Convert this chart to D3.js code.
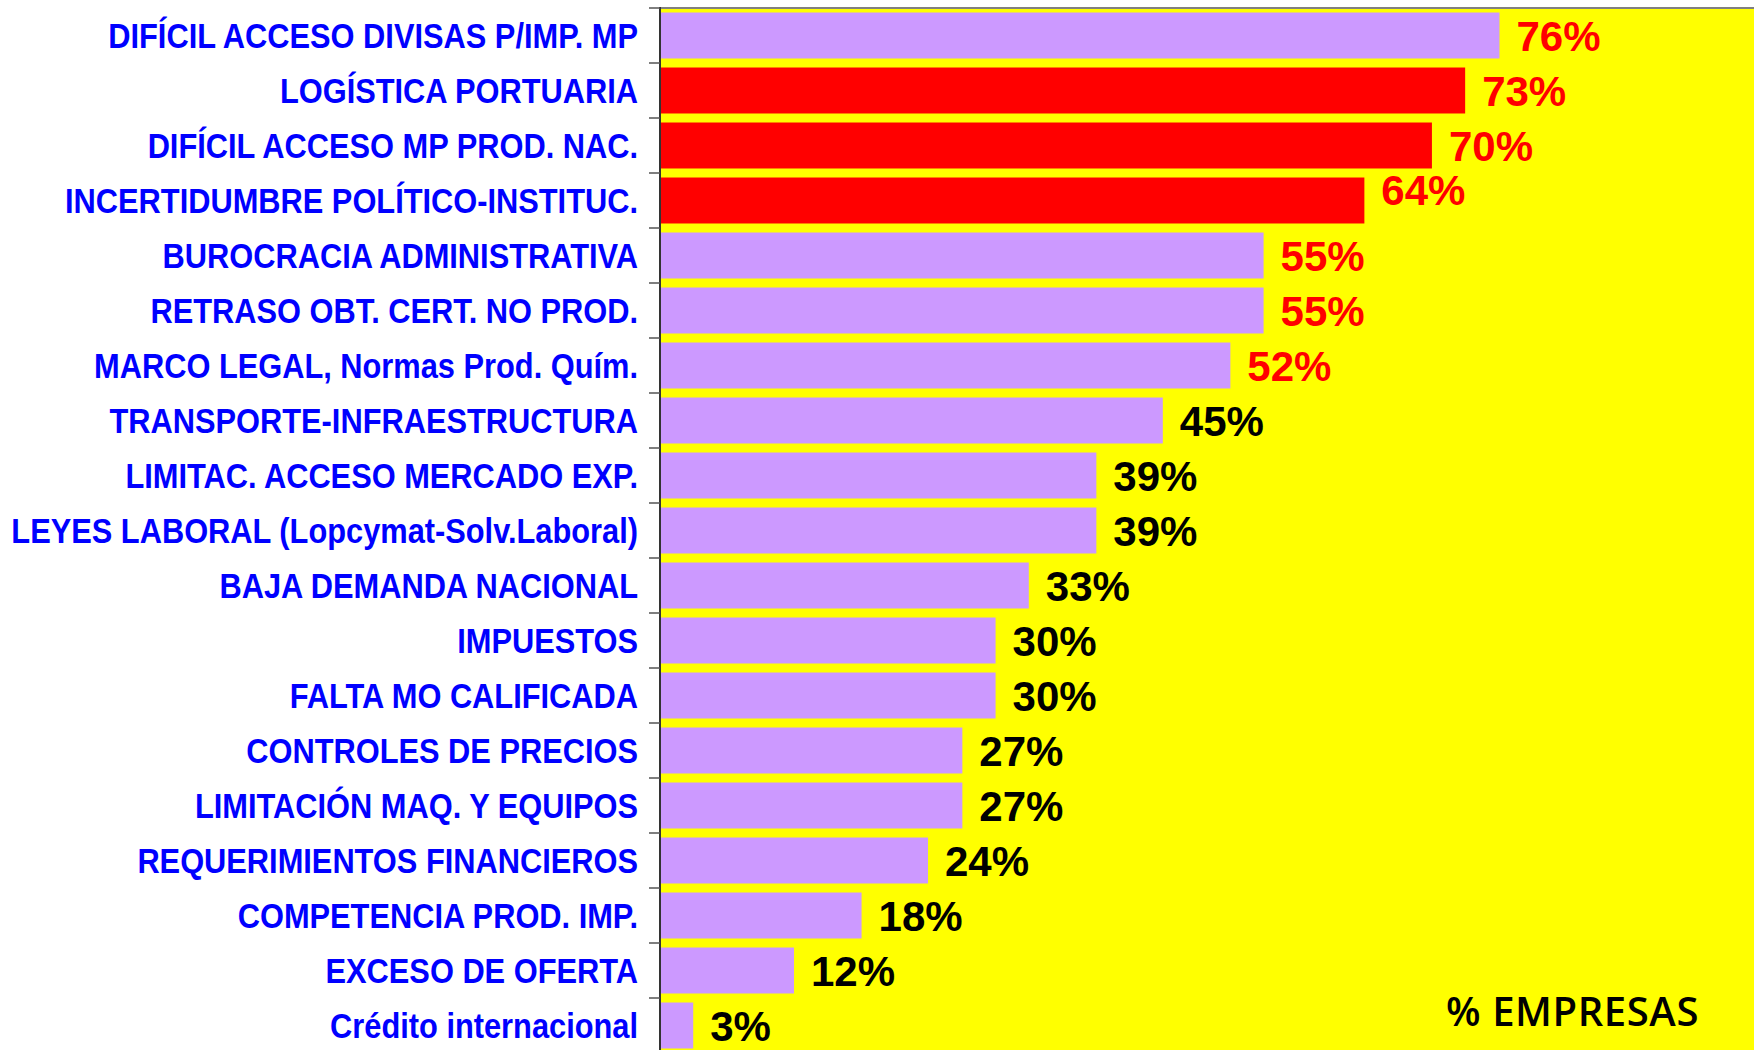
<!DOCTYPE html>
<html>
<head>
<meta charset="utf-8">
<script src="https://cdn.jsdelivr.net/npm/d3@7"></script>
<style>
  html, body { margin: 0; padding: 0; background: #ffffff; }
  svg { display: block; }
</style>
</head>
<body>
<div id="chart"></div>
<script>
// categories, top to bottom
var categories = [
  "DIFÍCIL ACCESO DIVISAS P/IMP. MP",
  "LOGÍSTICA PORTUARIA",
  "DIFÍCIL ACCESO MP PROD. NAC.",
  "INCERTIDUMBRE POLÍTICO-INSTITUC.",
  "BUROCRACIA ADMINISTRATIVA",
  "RETRASO OBT. CERT. NO PROD.",
  "MARCO LEGAL, Normas Prod. Quím.",
  "TRANSPORTE-INFRAESTRUCTURA",
  "LIMITAC. ACCESO MERCADO EXP.",
  "LEYES LABORAL (Lopcymat-Solv.Laboral)",
  "BAJA DEMANDA NACIONAL",
  "IMPUESTOS",
  "FALTA MO CALIFICADA",
  "CONTROLES DE PRECIOS",
  "LIMITACIÓN MAQ. Y EQUIPOS",
  "REQUERIMIENTOS FINANCIEROS",
  "COMPETENCIA PROD. IMP.",
  "EXCESO DE OFERTA",
  "Crédito internacional"
];

// % of companies
var values = [75.8, 72.7, 69.7, 63.6, 54.5, 54.5, 51.5, 45.4, 39.4, 39.4,
              33.3, 30.3, 30.3, 27.3, 27.3, 24.2, 18.2, 12.1, 3.0];

// highlighted bars (red)
var highlighted = ["LOGÍSTICA PORTUARIA", "DIFÍCIL ACCESO MP PROD. NAC.", "INCERTIDUMBRE POLÍTICO-INSTITUC."];

var redLabelCount = 7;   // first n value labels are red
var axisTitle = "% EMPRESAS";

var width = 1754, height = 1050;
var plotLeft = 660, plotTop = 8;

var svg = d3.select("#chart").append("svg")
  .attr("width", width)
  .attr("height", height);

var x = d3.scaleLinear()
  .domain([0, 100])
  .range([plotLeft, plotLeft + 1107.5]);

var y = d3.scaleBand()
  .domain(categories)
  .range([plotTop, plotTop + 55 * categories.length])
  .paddingInner(0.164)
  .paddingOuter(0.082);

var step = y.step();

// plot background
svg.append("rect")
  .attr("x", plotLeft)
  .attr("y", plotTop)
  .attr("width", width - plotLeft)
  .attr("height", height - plotTop)
  .attr("fill", "#ffff00");

// top border
svg.append("line")
  .attr("x1", plotLeft).attr("x2", width)
  .attr("y1", plotTop).attr("y2", plotTop)
  .attr("stroke", "#808080")
  .attr("stroke-width", 2);

// bars
svg.selectAll(".bar")
  .data(categories)
  .enter()
  .append("rect")
  .attr("class", "bar")
  .attr("x", x(0) + 1)
  .attr("y", function (d) { return y(d); })
  .attr("width", function (d, i) { return x(values[i]) - x(0) - 1; })
  .attr("height", y.bandwidth())
  .attr("fill", function (d) { return highlighted.indexOf(d) >= 0 ? "#ff0000" : "#cc99ff"; });

// y axis line + ticks at band edges
svg.append("line")
  .attr("x1", plotLeft).attr("x2", plotLeft)
  .attr("y1", plotTop - 1).attr("y2", height)
  .attr("stroke", "#333333")
  .attr("stroke-width", 2);

svg.selectAll(".tick")
  .data(d3.range(categories.length + 1))
  .enter()
  .append("line")
  .attr("class", "tick")
  .attr("x1", plotLeft - 11).attr("x2", plotLeft)
  .attr("y1", function (k) { return plotTop + k * step; })
  .attr("y2", function (k) { return plotTop + k * step; })
  .attr("stroke", "#555555")
  .attr("stroke-width", 1.5);

// category labels (condensed bold)
svg.selectAll(".cat")
  .data(categories)
  .enter()
  .append("text")
  .attr("class", "cat")
  .attr("transform", function (d) {
    return "translate(638," + (y(d) + y.bandwidth() / 2) + ") scale(0.88,1)";
  })
  .attr("dy", "0.35em")
  .attr("text-anchor", "end")
  .style("font-family", "'Liberation Sans', Arial, sans-serif")
  .style("font-weight", "bold")
  .style("font-size", "35px")
  .attr("fill", "#0000ff")
  .text(function (d) { return d; });

// value labels
svg.selectAll(".val")
  .data(categories)
  .enter()
  .append("text")
  .attr("class", "val")
  .attr("x", function (d, i) { return x(values[i]) + 17; })
  .attr("y", function (d) {
    var cy = y(d) + y.bandwidth() / 2;
    // that one label sits a bit higher in the original
    if (d === "INCERTIDUMBRE POLÍTICO-INSTITUC.") cy -= 11;
    return cy;
  })
  .attr("dy", "0.36em")
  .style("font-family", "'Liberation Sans', Arial, sans-serif")
  .style("font-weight", "bold")
  .style("font-size", "42px")
  .attr("fill", function (d, i) { return i < redLabelCount ? "#ff0000" : "#000000"; })
  .text(function (d, i) { return Math.round(values[i]) + "%"; });

// axis title
svg.append("text")
  .attr("x", 1446)
  .attr("y", 1026)
  .style("font-family", "'Open Sans', 'Noto Sans', sans-serif")
  .style("font-weight", "600")
  .style("font-size", "40px")
  .style("letter-spacing", "0.6px")
  .attr("fill", "#000000")
  .text(axisTitle);
</script>
</body>
</html>
